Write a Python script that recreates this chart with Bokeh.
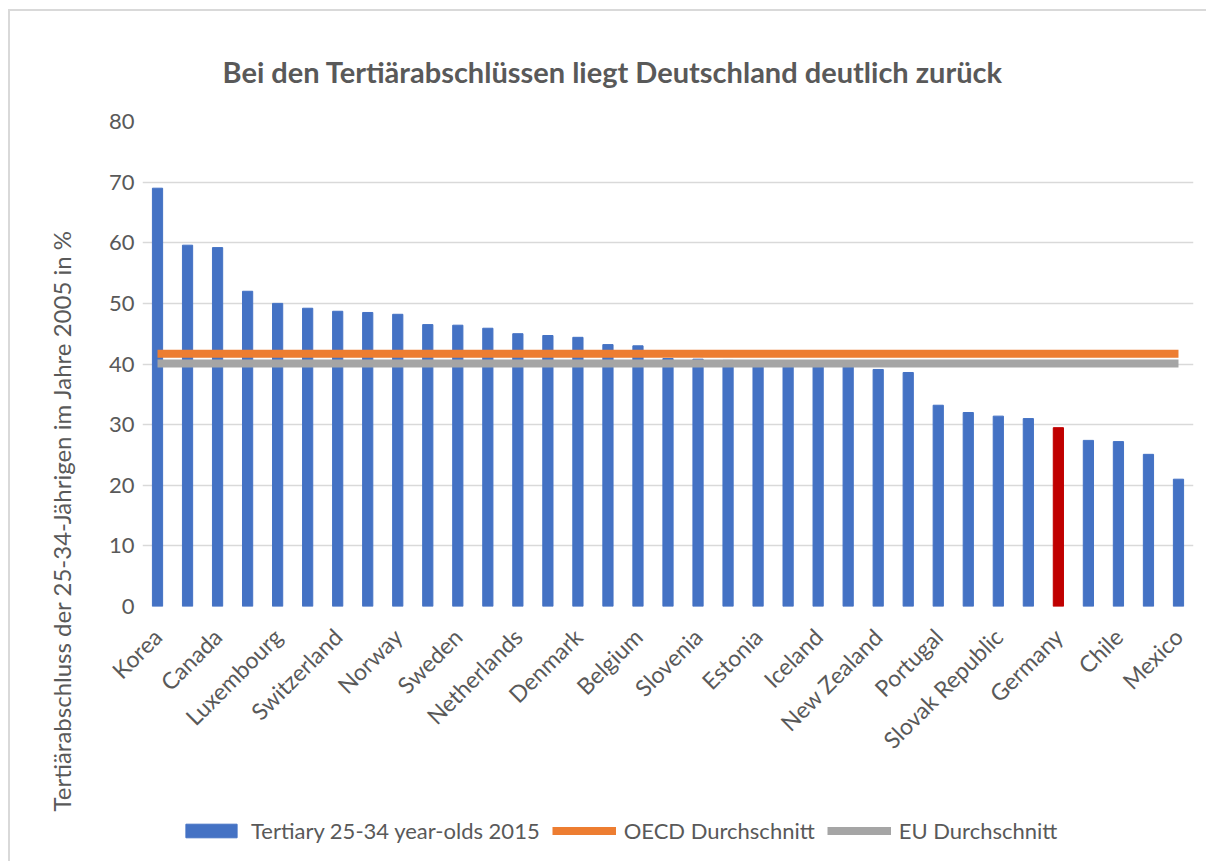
import math
from bokeh.plotting import figure
from bokeh.layouts import column
from bokeh.models import ColumnDataSource, Legend, LegendItem, FixedTicker, Title
from bokeh.embed import file_html
from bokeh.resources import INLINE

# ---------------- data ----------------
countries = ["Korea", "Japan", "Canada", "Ireland", "Luxembourg", "United Kingdom",
             "Switzerland", "Australia", "Norway", "United States", "Sweden", "Israel",
             "Netherlands", "France", "Denmark", "Poland", "Belgium", "Spain", "Slovenia",
             "Latvia", "Estonia", "Finland", "Iceland", "Greece", "New Zealand", "Austria",
             "Portugal", "Hungary", "Slovak Republic", "Czech Republic", "Germany",
             "Turkey", "Chile", "Italy", "Mexico"]
tertiary_2015 = [69.0, 59.6, 59.2, 52.0, 50.0, 49.2, 48.7, 48.5, 48.2, 46.5, 46.4, 45.9,
                 45.0, 44.7, 44.4, 43.2, 43.0, 40.9, 40.8, 40.6, 40.4, 40.3, 40.2, 40.0,
                 39.1, 38.6, 33.2, 32.0, 31.4, 31.0, 29.5, 27.4, 27.2, 25.1, 21.0]
oecd_avg = 41.7
eu_avg = 40.1
highlight = "Germany"
labelled = ["Korea", "Canada", "Luxembourg", "Switzerland", "Norway", "Sweden",
            "Netherlands", "Denmark", "Belgium", "Slovenia", "Estonia", "Iceland",
            "New Zealand", "Portugal", "Slovak Republic", "Germany", "Chile", "Mexico"]
y_ticks = [0, 10, 20, 30, 40, 50, 60, 70, 80]
title_text = "Bei den Tertiärabschlüssen liegt Deutschland deutlich zurück"
y_label = "Tertiärabschluss der 25-34-Jährigen im Jahre 2005 in %"
series_names = ["Tertiary 25-34 year-olds 2015", "OECD Durchschnitt", "EU Durchschnitt"]

FONT = "Lato"
TXT = "#595959"
BLUE = "#4472C4"
RED = "#C00000"
ORANGE = "#ED7D31"
GREY = "#A5A5A5"

positions = list(range(1, len(countries) + 1))
colors = [RED if c == highlight else BLUE for c in countries]
src = ColumnDataSource(dict(pos=positions, country=countries, value=tertiary_2015,
                            color=colors))

# ---------------- main chart ----------------
p = figure(x_range=(0.5, len(countries) + 0.5), y_range=(0, 80),
           width=1196, height=805, output_backend="svg", toolbar_location=None,
           min_border_left=132, min_border_right=13, min_border_top=110,
           min_border_bottom=210, title=title_text)

p.title.align = "left"
p.title.offset = 80
p.title.standoff = 66
p.title.text_font = FONT
p.title.text_font_size = "29px"
p.title.text_font_style = "bold"
p.title.text_color = TXT

p.outline_line_color = None
p.xgrid.grid_line_color = None
p.ygrid.grid_line_color = "#d9d9d9"
p.ygrid.grid_line_width = 1.5
p.yaxis.ticker = FixedTicker(ticks=y_ticks)
p.xaxis.ticker = FixedTicker(ticks=[positions[countries.index(c)] for c in labelled])
p.xaxis.major_label_overrides = {positions[countries.index(c)]: c for c in labelled}

for ax in (p.xaxis, p.yaxis):
    ax.axis_line_color = None
    ax.major_tick_line_color = None
    ax.minor_tick_line_color = None
    ax.major_tick_out = 0
    ax.major_tick_in = 0
    ax.minor_tick_out = 0
    ax.major_label_text_font = FONT
    ax.major_label_text_color = TXT

p.yaxis.major_label_text_font_size = "22px"
p.yaxis.major_label_standoff = 8
p.xaxis.major_label_text_font_size = "23px"
p.xaxis.major_label_orientation = math.pi / 4
p.xaxis.major_label_standoff = 26

bars = p.vbar(x="pos", top="value", width=0.34, color="color", source=src)
oecd = p.line(x=positions, y=[oecd_avg] * len(positions), line_width=8, line_color=ORANGE)
eu = p.line(x=positions, y=[eu_avg] * len(positions), line_width=8, line_color=GREY)

ytitle = Title(text=y_label, align="left", offset=-205, standoff=60,
               text_font=FONT, text_font_size="24px", text_font_style="normal",
               text_color=TXT)
p.add_layout(ytitle, "left")

# ---------------- legend strip (same series, drawn off-range; only the key shows) ----
p2 = figure(x_range=(0.5, len(countries) + 0.5), y_range=(100, 101), width=1196, height=45,
            output_backend="svg", toolbar_location=None,
            x_axis_type=None, y_axis_type=None,
            min_border_left=0, min_border_right=0, min_border_top=0, min_border_bottom=0)
p2.outline_line_color = None
p2.grid.grid_line_color = None
p2.background_fill_color = None
p2.border_fill_color = None
lg_bar = p2.vbar(x=positions, top=tertiary_2015, width=0.34, color=BLUE)
lg_oecd = p2.line(x=positions, y=[oecd_avg] * len(positions), line_width=8, line_color=ORANGE)
lg_eu = p2.line(x=positions, y=[eu_avg] * len(positions), line_width=8, line_color=GREY)

legend = Legend(items=[LegendItem(label=series_names[0], renderers=[lg_bar]),
                       LegendItem(label=series_names[1], renderers=[lg_oecd]),
                       LegendItem(label=series_names[2], renderers=[lg_eu])],
                orientation="horizontal", location=(37, 17),
                glyph_width=64, glyph_height=17, label_standoff=8, spacing=12,
                padding=0, margin=0, border_line_color=None, background_fill_alpha=0,
                label_text_font=FONT, label_text_font_size="22px", label_text_color=TXT)
p2.add_layout(legend, "center")

layout = column(p, p2, spacing=0,
                styles={"margin-left": "8px", "margin-top": "9px",
                        "border-left": "2px solid #d9d9d9", "border-top": "2px solid #d9d9d9"})

open("out.html", "w").write(file_html(layout, INLINE))
